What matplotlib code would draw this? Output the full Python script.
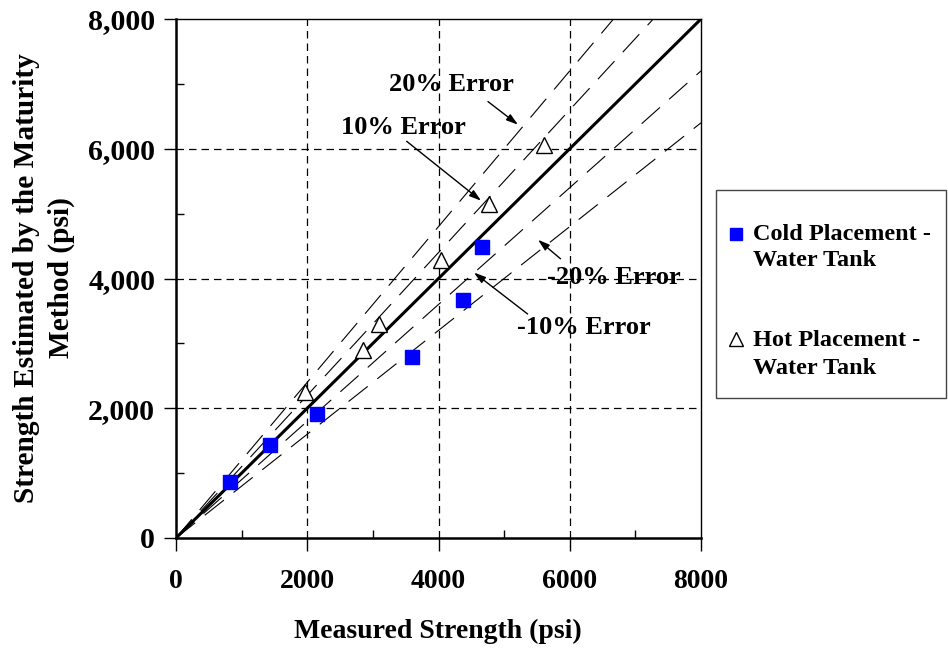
import matplotlib
matplotlib.use("Agg")
import matplotlib.pyplot as plt
from matplotlib.lines import Line2D
from matplotlib.patches import Rectangle
from matplotlib.ticker import MultipleLocator, FuncFormatter
import numpy as np

# données
cold_x = [830, 1436, 2156, 3594, 4373, 4663]
cold_y = [868, 1438, 1918, 2796, 3675, 4491]
hot_x = [1963, 2842, 3095, 4032, 4763, 5606]
hot_y = [2254, 2892, 3293, 4278, 5141, 6061]
error_ratios = [1.2, 1.1, 0.9, 0.8]
legend_labels = [["Cold Placement -", "Water Tank"], ["Hot Placement -", "Water Tank"]]

W, H = 948, 649
plt.rcParams['font.family'] = ['Liberation Serif', 'DejaVu Serif']
plt.rcParams['font.weight'] = 'bold'
FS = 20

fig = plt.figure(figsize=(W / 100, H / 100), dpi=100)
ax = fig.add_axes([176 / W, 1 - 538 / H, (701 - 176) / W, (538 - 19) / H])

ax.set_xlim(0, 8000)
ax.set_ylim(0, 8000)

# grille
for v in [2000, 4000, 6000]:
    ax.axvline(v, color='black', lw=0.9, ls=(0, (6, 4)), zorder=1)
    ax.axhline(v, color='black', lw=0.9, ls=(0, (6, 4)), zorder=1)

# lignes d'erreur
xx = np.array([0, 8000])
for r in error_ratios:
    ax.plot(xx, r * xx, color='black', lw=0.8, ls=(0, (22, 11)), zorder=2)
ax.plot(xx, xx, color='black', lw=2.2, zorder=3)

ax.plot(cold_x, cold_y, ls='none', marker='s', ms=9.5, color='#0000ff', zorder=4)
ax.plot(hot_x, hot_y, ls='none', marker='^', ms=11, mfc='white', mec='black', mew=1.0, zorder=4)

# annotations
arrow = dict(arrowstyle='-|>,head_length=0.7,head_width=0.22', color='black', lw=1.0, shrinkA=0, shrinkB=0)
notes = [
    ("20% Error", (4190, 6983), (4754, 6727), (5211, 6371)),
    ("10% Error", (3459, 6335), (3515, 6115), (4648, 5199)),
    ("-20% Error", (6674, 4023), (5859, 4304), (5516, 4597)),
    ("-10% Error", (6217, 3252), (5358, 3453), (4541, 4091)),
]
for txt, pos, start, tip in notes:
    ax.text(pos[0], pos[1], txt, fontsize=19, fontweight='bold', ha='center', va='center', zorder=5)
    ax.annotate("", xy=tip, xytext=start, arrowprops=arrow, zorder=5)

# axes
for s in ax.spines.values():
    s.set_linewidth(1.0)
ax.spines['left'].set_linewidth(1.8)
ax.spines['bottom'].set_linewidth(1.8)
ax.xaxis.set_major_locator(MultipleLocator(2000))
ax.xaxis.set_minor_locator(MultipleLocator(1000))
ax.yaxis.set_major_locator(MultipleLocator(2000))
ax.yaxis.set_minor_locator(MultipleLocator(1000))
ax.tick_params(which='major', direction='out', length=9, width=1.0)
ax.tick_params(which='minor', direction='in', length=6, width=1.0)
ax.tick_params(axis='x', which='major', pad=13, labelsize=FS)
ax.tick_params(axis='y', which='major', pad=6, labelsize=21.5)
ax.yaxis.set_major_formatter(FuncFormatter(lambda v, p: f"{int(v):,}"))
ax.xaxis.set_major_formatter(FuncFormatter(lambda v, p: f"{int(v)}"))
for lab in ax.get_xticklabels() + ax.get_yticklabels():
    lab.set_fontweight('bold')

fig.text(438 / W, 1 - 631 / H, "Measured Strength (psi)", fontsize=FS, fontweight='bold',
         ha='center', va='center')
fig.text(27 / W, 1 - 278 / H, "Strength Estimated by the Maturity", fontsize=21.2,
         fontweight='bold', rotation=90, ha='center', va='center')
fig.text(61 / W, 1 - 278 / H, "Method (psi)", fontsize=21.2, fontweight='bold',
         rotation=90, ha='center', va='center')

# légende manuelle
fig.add_artist(Rectangle((716 / W, 1 - 398 / H), (946 - 716) / W, (398 - 190) / H,
                         transform=fig.transFigure, fill=False, ec='#444444', lw=1.0))
fig.add_artist(Line2D([736 / W], [1 - 234 / H], transform=fig.transFigure, ls='none',
                      marker='s', ms=9, color='#0000ff'))
fig.add_artist(Line2D([736 / W], [1 - 339 / H], transform=fig.transFigure, ls='none',
                      marker='^', ms=10, mfc='white', mec='black', mew=1.0))
for (l1, l2), y0 in zip(legend_labels, [234, 341]):
    fig.text(753 / W, 1 - y0 / H, l1, fontsize=17.5, fontweight='bold', ha='left', va='center')
    fig.text(753 / W, 1 - (y0 + 27) / H, l2, fontsize=17.5, fontweight='bold', ha='left', va='center')

fig.savefig("out.png", dpi=100)
